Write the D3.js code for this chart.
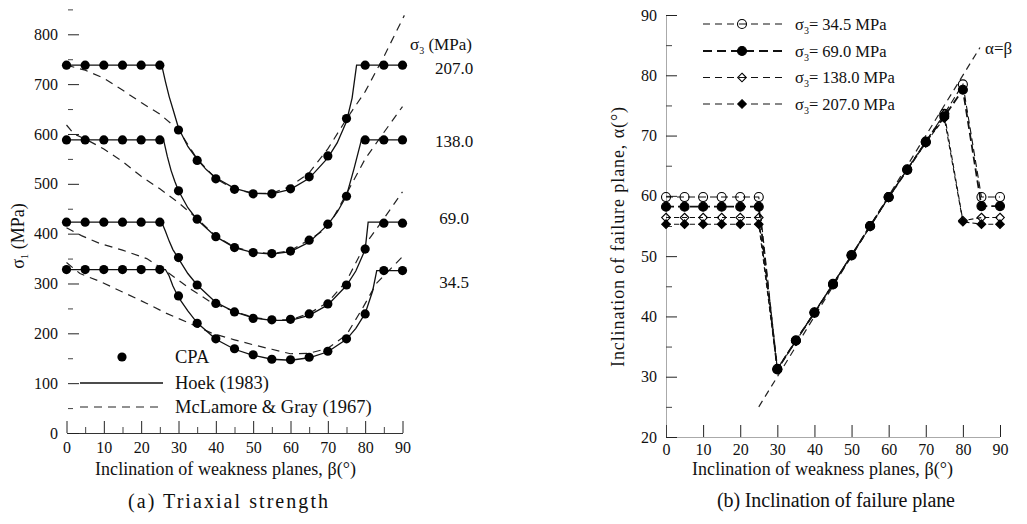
<!DOCTYPE html>
<html><head><meta charset="utf-8">
<script src="https://cdn.jsdelivr.net/npm/d3@7"></script>
<style>
body{margin:0;background:#fff}
svg{display:block;background:#fff}
text{font-family:"Liberation Serif","Times New Roman",serif;fill:#111}
</style>
</head><body>
<svg id="c" width="1027" height="524"></svg>
<script>
// ---------- DATA ----------
const beta = [0,5,10,15,20,25,30,35,40,45,50,55,60,65,70,75,80,85,90];

// (a) CPA triaxial strength sigma1 (MPa)
const cpa207 = [738,738,738,738,738,738,608,547,510,489,480,480,490,514,556,631,738,738,738];
const cpa138 = [588,588,588,588,588,588,486,429,394,372,362,360,365,387,419,475,588,588,588];
const cpa69  = [423,423,423,423,423,423,352,297,260,243,230,227,228,239,259,297,369,421,421];
const cpa345 = [328,328,328,328,328,328,275,220,189,169,157,148,147,152,164,189,239,326,326];

// Hoek (1983) curves [beta, sigma1]
const hoek207 = [[0,738],[25.5,738],[26.5,705],[27.5,675],[28.5,650],[30,612],[32.5,575],[35,549],[37.5,528],[40,512],[45,491],[50,481],[55,480],[60,489],[65,511],[70,552],[72.5,582],[75,625],[76.5,672],[77.7,738],[90,738]];
const hoek138 = [[0,588],[26,588],[27,555],[28,527],[29,505],[30,486],[32.5,452],[35,428],[40,394],[45,372],[50,362],[55,359],[60,364],[65,383],[70,418],[72.5,443],[75,476],[77,530],[79,588],[90,588]];
const hoek69  = [[0,423],[25.5,423],[26.5,405],[27.5,385],[28.5,368],[30,350],[32.5,320],[35,297],[40,262],[45,243],[50,231],[55,226],[60,226],[65,236],[70,257],[75,296],[77.5,325],[80,368],[80.8,423],[90,423]];
const hoek345 = [[0,328],[26.5,328],[27.5,315],[28.5,295],[30,272],[32.5,245],[35,221],[40,188],[45,168],[50,156],[55,148],[60,146],[65,151],[70,163],[75,188],[77.5,210],[80,240],[82,285],[83.1,326],[90,326]];

// McLamore & Gray (1967) curves [beta, sigma1]
const mg207 = [[0,738],[5,728],[10,712],[15,688],[20,663],[25,640],[30,608],[35,550],[40,510],[45,489],[50,481],[55,481],[60,495],[65,522],[70,570],[75,630],[80,685],[85,755],[90.5,838]];
const mg138 = [[0,618],[2,600],[5,590],[10,570],[15,545],[20,515],[25,490],[30,462],[35,430],[40,395],[45,373],[50,363],[55,360],[60,366],[65,388],[70,412],[75,480],[80,550],[85,603],[90,655]];
const mg69  = [[0,412],[4,396],[9,380],[15,367],[21.5,350],[26.8,324],[33,290],[39,261],[45,244],[50,232],[55,227],[60,227],[65,240],[70,262],[75,305],[80,378],[85,430],[90,484]];
const mg345 = [[0,342],[3.6,320],[9,304],[15,283],[21.5,260],[26.8,240],[33,220],[39,200],[45,187],[50,177],[55,168],[60,159],[65,160],[70,170],[75,197],[79.5,253],[83,300],[90,354]];

const sigma3Labels = ["207.0","138.0","69.0","34.5"];

// (b) inclination of failure plane alpha (deg)
const alpha345 = [59.8,59.8,59.8,59.8,59.8,59.8,31.3,36.0,40.7,45.4,50.2,55.0,59.8,64.4,69.0,73.6,78.5,59.8,59.8];
const alpha69  = [58.2,58.2,58.2,58.2,58.2,58.2,31.2,36.0,40.6,45.3,50.1,55.0,59.8,64.3,68.9,73.2,77.6,58.3,58.3];
const alpha138 = [56.4,56.4,56.4,56.4,56.4,56.4,31.3,36.0,40.7,45.4,50.2,55.0,59.8,64.4,69.0,73.6,55.9,56.4,56.4];
const alpha207 = [55.3,55.3,55.3,55.3,55.3,55.3,31.2,35.9,40.6,45.3,50.1,54.9,59.7,64.3,68.8,72.9,55.7,55.3,55.3];
const alphaEqBeta = [[25,25],[84.6,84.6]];
const legendB = ["34.5","69.0","138.0","207.0"];

const yTicksA = [0,100,200,300,400,500,600,700,800];
const yMinorA = [50,150,250,350,450,550,650,750,850];
const xTicks = [0,10,20,30,40,50,60,70,80,90];
const xMinor = [5,15,25,35,45,55,65,75,85];
const yTicksB = [20,30,40,50,60,70,80,90];
const yMinorB = [25,35,45,55,65,75,85];

// ---------- DRAW ----------
const svg = d3.select("#c");
const FS = 16;

// ===== Chart (a) =====
const xA = d3.scaleLinear().domain([0,90]).range([66.5,402.5]);
const yA = d3.scaleLinear().domain([0,800]).range([433,34.3]);
const gA = svg.append("g");

// x axis
const axA = gA.append("g").attr("transform","translate(0,433)")
  .call(d3.axisBottom(xA).tickValues(xTicks).tickSizeInner(-12).tickSizeOuter(0).tickPadding(9).tickFormat(d3.format("d")));
axA.select(".domain").attr("stroke","#333").attr("stroke-width",1);
axA.selectAll(".tick line").attr("stroke","#222");
axA.selectAll("text").attr("font-size",FS).attr("font-family","Liberation Serif").attr("fill","#111");
gA.append("g").attr("transform","translate(0,433)")
  .call(d3.axisBottom(xA).tickValues(xMinor).tickSizeInner(-6).tickSizeOuter(0).tickFormat(""))
  .call(g=>g.select(".domain").remove()).selectAll("line").attr("stroke","#444");

// y axis (ticks only)
const ayA = gA.append("g").attr("transform","translate(67,0)")
  .call(d3.axisLeft(yA).tickValues(yTicksA).tickSizeInner(-11).tickSizeOuter(0).tickPadding(9).tickFormat(d3.format("d")));
ayA.select(".domain").remove();
ayA.selectAll(".tick line").attr("stroke","#222").attr("transform","translate(1,0)");
ayA.selectAll("text").attr("font-size",FS).attr("font-family","Liberation Serif").attr("fill","#111");
gA.append("g").attr("transform","translate(68,0)")
  .call(d3.axisLeft(yA).tickValues(yMinorA).tickSizeInner(-5).tickSizeOuter(0).tickFormat(""))
  .call(g=>g.select(".domain").remove()).selectAll("line").attr("stroke","#444");

const lineA = d3.line().x(d=>xA(d[0])).y(d=>yA(d[1]));
[mg207,mg138,mg69,mg345].forEach(s=>{
  gA.append("path").attr("d",lineA(s)).attr("fill","none").attr("stroke","#222")
    .attr("stroke-width",1.2).attr("stroke-dasharray","8,6");
});
[hoek207,hoek138,hoek69,hoek345].forEach(s=>{
  gA.append("path").attr("d",lineA(s)).attr("fill","none").attr("stroke","#111").attr("stroke-width",1.3);
});
[cpa207,cpa138,cpa69,cpa345].forEach(s=>{
  gA.append("g").selectAll("circle").data(s).join("circle")
    .attr("cx",(d,i)=>xA(beta[i])).attr("cy",d=>yA(d)).attr("r",4.6).attr("fill","#000");
});

// sigma3 labels
const s3y = [yA(738)+3, yA(588)+1, yA(423)-4, yA(328)+13];
sigma3Labels.forEach((t,i)=>{
  gA.append("text").attr("x",454).attr("y",s3y[i]).attr("dy","0.35em").attr("text-anchor","middle")
    .attr("font-size",FS+1).text(t);
});
const s3t = gA.append("text").attr("x",410).attr("y",50).attr("font-size",FS+1);
s3t.append("tspan").text("σ");
s3t.append("tspan").attr("font-size",10).attr("dy",4).text("3");
s3t.append("tspan").attr("dy",-4).text(" (MPa)");

// legend (a)
gA.append("circle").attr("cx",122).attr("cy",357).attr("r",4.6).attr("fill","#000");
gA.append("line").attr("x1",80).attr("x2",163).attr("y1",383).attr("y2",383).attr("stroke","#111").attr("stroke-width",1.3);
gA.append("line").attr("x1",80).attr("x2",158).attr("y1",407).attr("y2",407).attr("stroke","#222").attr("stroke-width",1.2).attr("stroke-dasharray","8,6");
[["CPA",357],["Hoek (1983)",383],["McLamore & Gray (1967)",407]].forEach(([t,y])=>{
  gA.append("text").attr("x",175).attr("y",y).attr("dy","0.35em").attr("font-size",18.5).text(t);
});

// y title
const yt = gA.append("text").attr("transform","translate(24,236) rotate(-90)").attr("text-anchor","middle").attr("font-size",18);
yt.append("tspan").text("σ");
yt.append("tspan").attr("font-size",11).attr("dy",4).text("1");
yt.append("tspan").attr("dy",-4).text(" (MPa)");
gA.append("text").attr("x",95).attr("y",475).attr("font-size",18)
  .attr("textLength",261).attr("lengthAdjust","spacing")
  .text("Inclination of weakness planes, β(°)");
gA.append("text").attr("x",128).attr("y",508).attr("font-size",20)
  .attr("textLength",200).attr("lengthAdjust","spacing")
  .text("(a) Triaxial strength");

// ===== Chart (b) =====
const xB = d3.scaleLinear().domain([0,90]).range([666,1000]);
const yB = d3.scaleLinear().domain([20,90]).range([437,15]);
const gB = svg.append("g");

const axB = gB.append("g").attr("transform","translate(0,437)")
  .call(d3.axisBottom(xB).tickValues(xTicks).tickSizeInner(-12).tickSizeOuter(0).tickPadding(7).tickFormat(d3.format("d")));
axB.select(".domain").attr("stroke","#555").attr("stroke-dasharray","1,1");
axB.selectAll(".tick line").attr("stroke","#222");
axB.selectAll("text").attr("font-size",FS).attr("font-family","Liberation Serif").attr("fill","#111");

const ayB = gB.append("g").attr("transform","translate(666,0)")
  .call(d3.axisLeft(yB).tickValues(yTicksB).tickSizeInner(-11).tickSizeOuter(0).tickPadding(9).tickFormat(d3.format("d")));
ayB.select(".domain").attr("stroke","#555").attr("stroke-dasharray","1,1");
ayB.selectAll(".tick line").attr("stroke","#222");
ayB.selectAll("text").attr("font-size",FS).attr("font-family","Liberation Serif").attr("fill","#111");
gB.append("g").attr("transform","translate(666,0)")
  .call(d3.axisLeft(yB).tickValues(yMinorB).tickSizeInner(-6).tickSizeOuter(0).tickFormat(""))
  .call(g=>g.select(".domain").remove()).selectAll("line").attr("stroke","#444");

const lineB = d3.line().x(d=>xB(d[0])).y(d=>yB(d[1]));
gB.append("path").attr("d",lineB(alphaEqBeta)).attr("fill","none").attr("stroke","#222")
  .attr("stroke-width",1.2).attr("stroke-dasharray","7,5");
gB.append("text").attr("x",985).attr("y",48).attr("dy","0.35em").attr("font-size",FS+1).text("α=β");

const seriesB = [
  {v:alpha345, dash:"7,4", w:1.1, m:"circle", fill:false},
  {v:alpha69,  dash:"8,4", w:1.8, m:"circle", fill:true},
  {v:alpha138, dash:"5,3", w:1.1, m:"diamond", fill:false},
  {v:alpha207, dash:"5,3", w:1.1, m:"diamond", fill:true}
];
function marker(g, type, filled, x, y){
  if(type==="circle"){
    g.append("circle").attr("cx",x).attr("cy",y).attr("r",4.5)
      .attr("fill",filled?"#000":"none").attr("stroke","#000").attr("stroke-width",1.1);
  } else {
    const r=4.3;
    g.append("path").attr("d",`M${x},${y-r}L${x+r},${y}L${x},${y+r}L${x-r},${y}Z`)
      .attr("fill",filled?"#000":"none").attr("stroke","#000").attr("stroke-width",1.1);
  }
}
seriesB.forEach(s=>{
  const pts = s.v.map((a,i)=>[beta[i],a]);
  gB.append("path").attr("d",lineB(pts)).attr("fill","none").attr("stroke","#111")
    .attr("stroke-width",s.w).attr("stroke-dasharray",s.dash);
});
seriesB.forEach(s=>{
  const g = gB.append("g");
  s.v.forEach((a,i)=>marker(g,s.m,s.fill,xB(beta[i]),yB(a)));
});

// legend (b)
const legY = [24,51,77.5,104];
seriesB.forEach((s,i)=>{
  const y = legY[i];
  gB.append("line").attr("x1",703).attr("x2",782).attr("y1",y).attr("y2",y)
    .attr("stroke","#111").attr("stroke-width",s.w).attr("stroke-dasharray",i===1?"9,5":"7,5");
  marker(gB,s.m,s.fill,742,y);
  const t = gB.append("text").attr("x",795).attr("y",y).attr("dy","0.35em").attr("font-size",16.5);
  t.append("tspan").text("σ");
  t.append("tspan").attr("font-size",10).attr("dy",4).text("3");
  t.append("tspan").attr("dy",-4).text("= " + legendB[i] + " MPa");
});

gB.append("text").attr("transform","translate(624,367) rotate(-90)").attr("font-size",18)
  .attr("textLength",260).attr("lengthAdjust","spacing")
  .text("Inclination of failure plane, α(°)");
gB.append("text").attr("x",692).attr("y",475).attr("font-size",18)
  .attr("textLength",261).attr("lengthAdjust","spacing")
  .text("Inclination of weakness planes, β(°)");
gB.append("text").attr("x",717).attr("y",507).attr("font-size",20)
  .attr("textLength",238).attr("lengthAdjust","spacing")
  .text("(b) Inclination of failure plane");
</script>
</body></html>
